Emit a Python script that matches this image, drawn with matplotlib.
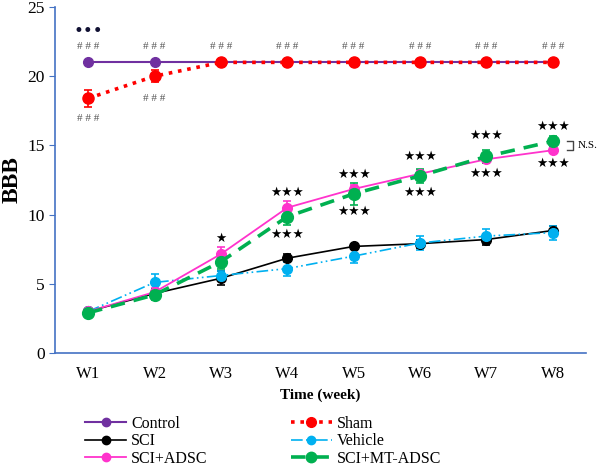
import matplotlib

matplotlib.use("Agg")
import matplotlib.pyplot as plt
from matplotlib.lines import Line2D

weeks = ["W1", "W2", "W3", "W4", "W5", "W6", "W7", "W8"]

control = [21, 21, 21, 21, 21, 21, 21, 21]
control_err = [0, 0, 0, 0, 0, 0, 0, 0]
sham = [18.4, 20.0, 21, 21, 21, 21, 21, 21]
sham_err = [0.6, 0.45, 0, 0, 0, 0, 0, 0]
sci = [3.0, 4.3, 5.4, 6.85, 7.7, 7.9, 8.2, 8.85]
sci_err = [0.1, 0.3, 0.5, 0.3, 0.2, 0.3, 0.4, 0.3]
vehicle = [3.0, 5.1, 5.6, 6.1, 7.0, 7.95, 8.45, 8.7]
vehicle_err = [0.1, 0.6, 0.3, 0.5, 0.5, 0.5, 0.5, 0.5]
adsc = [3.0, 4.4, 7.15, 10.5, 11.85, 12.95, 14.0, 14.65]
adsc_err = [0.1, 0.3, 0.5, 0.5, 0.3, 0.3, 0.3, 0.2]
mt_adsc = [2.9, 4.2, 6.6, 9.85, 11.5, 12.8, 14.2, 15.3]
mt_adsc_err = [0.1, 0.4, 0.5, 0.6, 0.8, 0.5, 0.5, 0.4]

# significance marks: (week index, y, text)
stars = [
    (3, 8.3, "★"),
    (4, 11.6, "★★★"), (4, 8.6, "★★★"),
    (5, 12.9, "★★★"), (5, 10.2, "★★★"),
    (6, 14.2, "★★★"), (6, 11.6, "★★★"),
    (7, 15.7, "★★★"), (7, 13.0, "★★★"),
    (8, 16.4, "★★★"), (8, 13.7, "★★★"),
]
hash_top = 21.85
hash_below = [(1, 17.3), (2, 18.7)]

serif = ["Liberation Serif", "DejaVu Serif"]
plt.rcParams["font.family"] = serif

fig = plt.figure(figsize=(5.97, 4.67), dpi=100)
ax = fig.add_axes([0.0921, 0.2441, 0.8894, 0.7409])
x = list(range(1, len(weeks) + 1))

series = [
    ("Control", control, control_err, "#7030A0", "-", 1.5, 7),
    ("Sham", sham, sham_err, "#FF0000", (0, (1, 1.6)), 2.6, 8),
    ("SCI", sci, sci_err, "#000000", "-", 1.2, 7),
    ("Vehicle", vehicle, vehicle_err, "#00B0F0", (0, (7, 2, 1, 2, 1, 2)), 1.2, 7),
    ("SCI+ADSC", adsc, adsc_err, "#FF33CC", "-", 1.3, 7),
    ("SCI+MT-ADSC", mt_adsc, mt_adsc_err, "#00B050", (0, (4, 2.5)), 2.6, 8.5),
]

handles = {}
for name, vals, err, color, ls, lw, ms in series:
    ax.errorbar(x, vals, yerr=err, color=color, ls=ls, lw=lw, marker="o",
                ms=ms, capsize=3, elinewidth=1.2, capthick=1.2)
    handles[name] = Line2D([], [], color=color, ls=ls, lw=lw, marker="o", ms=ms - 1)

ax.set_xlim(0.5, 8.5)
ax.set_ylim(0, 25)
ax.set_yticks([0, 5, 10, 15, 20, 25])
ax.set_xticks(x)
ax.set_xticklabels(weeks)
ax.tick_params(axis="x", length=0, labelsize=12, pad=9)
ax.tick_params(axis="y", length=4, color="#4472C4", labelsize=12.5)
for side in ["top", "right"]:
    ax.spines[side].set_visible(False)
for side in ["left", "bottom"]:
    ax.spines[side].set_color("#4472C4")
    ax.spines[side].set_linewidth(1.2)

ax.set_ylabel("BBB", fontsize=17, fontweight="bold", labelpad=3)
ax.set_xlabel("Time (week)", fontsize=11, fontweight="bold", labelpad=5)

# annotations
for xi in x:
    ax.text(xi, hash_top, "# # #", ha="center", va="bottom", fontsize=8, color="#555555")
for xi, yi in hash_below:
    ax.text(xi, yi, "# # #", ha="center", va="top", fontsize=8, color="#555555")
ax.text(1, 22.6, "•••", ha="center", va="bottom", fontsize=12, color="#111133",
        family=["DejaVu Sans"])
for xi, yi, s in stars:
    ax.text(xi, yi, s, ha="center", va="center", fontsize=9, family=["DejaVu Sans"])

# N.S. bracket
bx = 8.3
ax.plot([bx - 0.08, bx, bx, bx - 0.08], [adsc[-1], adsc[-1], mt_adsc[-1] + 0.05, mt_adsc[-1] + 0.05],
        color="#444444", lw=1)
ax.text(bx + 0.08, (adsc[-1] + mt_adsc[-1]) / 2, "N.S.", ha="left", va="center", fontsize=8)

order = ["Control", "SCI", "SCI+ADSC", "Sham", "Vehicle", "SCI+MT-ADSC"]
fig.legend(handles=[handles[n] for n in order], labels=order,
           ncol=2, loc="lower left", bbox_to_anchor=(0.142, 0.0), frameon=False,
           fontsize=11.5, handlelength=2.6, columnspacing=5.2, labelspacing=0.1,
           handletextpad=0.3, borderaxespad=0.0, borderpad=0.0)

fig.savefig("out.png", dpi=100)
